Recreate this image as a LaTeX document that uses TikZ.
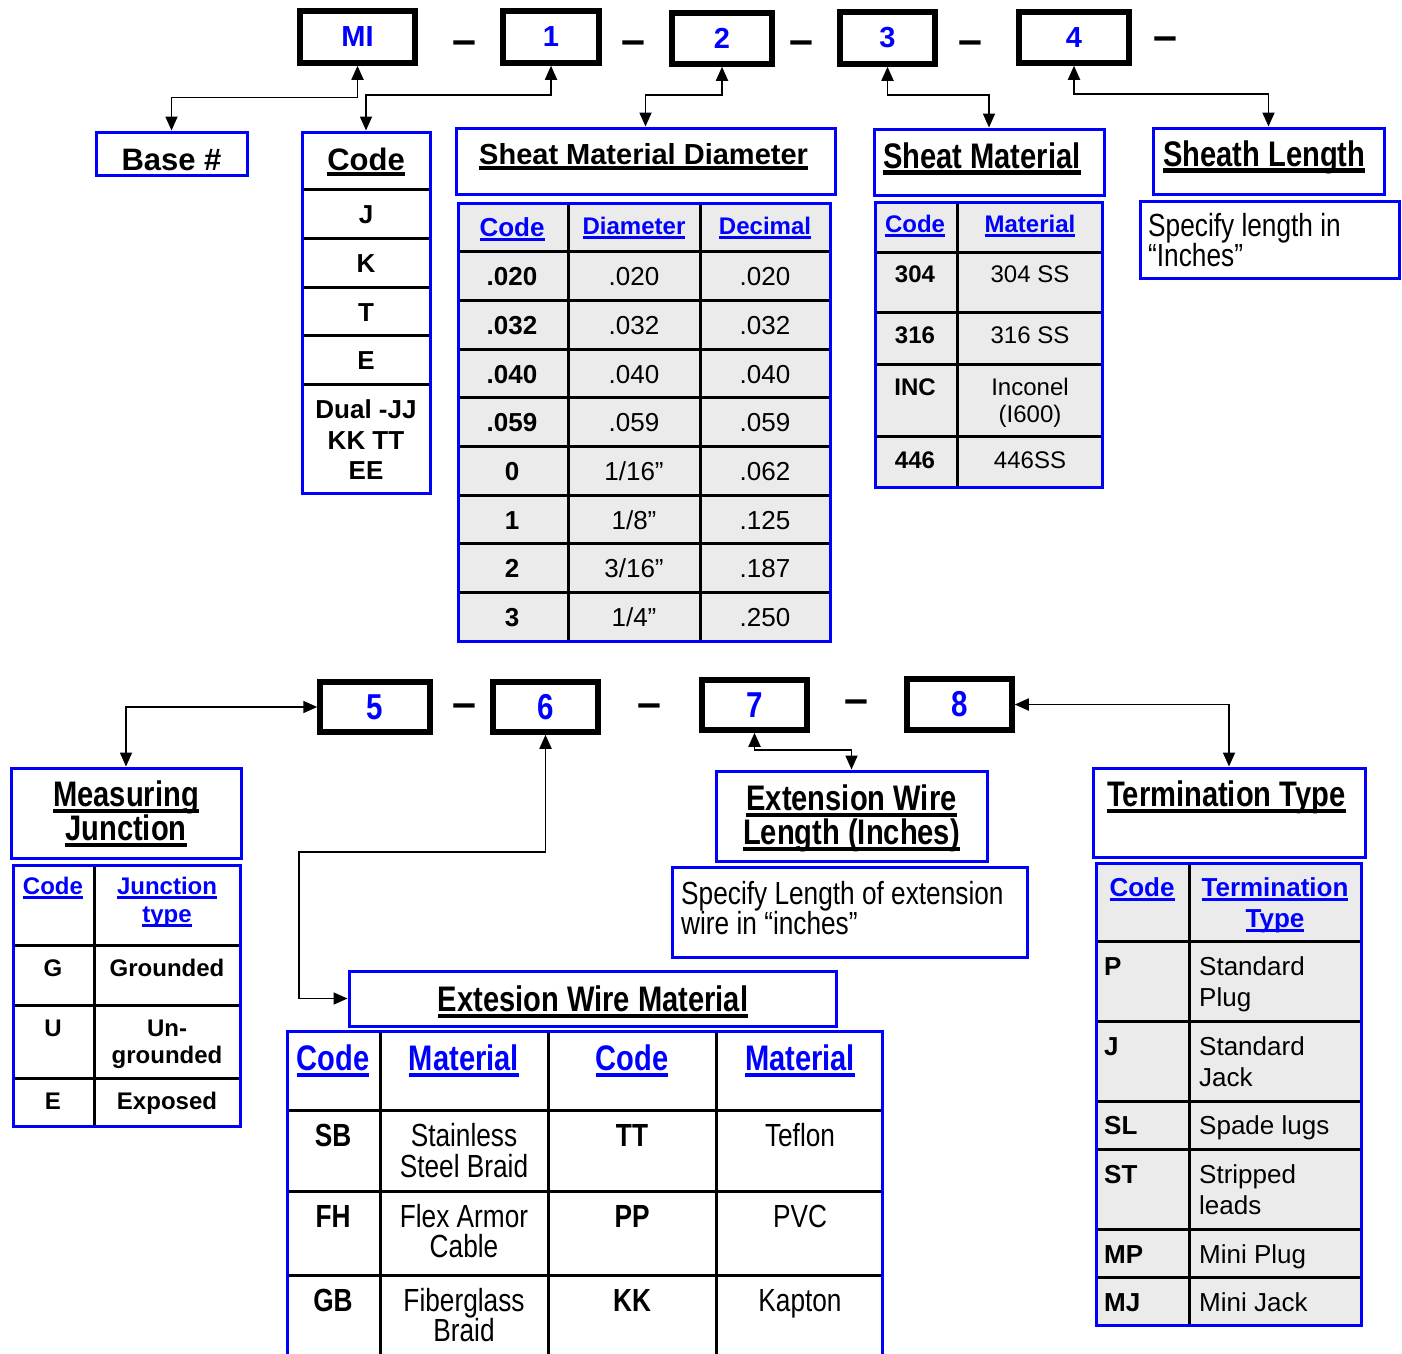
\documentclass[tikz,border=0pt]{standalone}
\usepackage{fontspec}
\setmainfont{Liberation Sans}
\newfontfamily\narrowsf[FakeStretch=0.82]{Liberation Sans}
\usetikzlibrary{arrows.meta,fit}
\newcommand\fsz[1]{\fontsize{#1}{#1}\selectfont}
\newcommand\uln[1]{\leavevmode\setbox0=\hbox{#1}\rlap{\vrule width\wd0 height -0.07em depth 0.19em}\box0}
\definecolor{shade}{gray}{0.92}
\tikzset{
  numbox/.style={draw=black, line width=5.5pt, inner sep=0pt},
  numtx/.style={inner sep=0pt, text=blue, font=\bfseries\fsz{29}},
  numtxb/.style={numtx, font=\narrowsf\bfseries\fsz{36}},
  sep/.style={anchor=base, inner sep=0pt, font=\bfseries\fsz{43}},
  bluebox/.style={draw=blue, line width=3pt, inner sep=0pt, fill=white},
  rowrule/.style={line width=3pt},
  link/.style={line width=1.8pt, {Triangle[length=14pt,width=12pt]}-{Triangle[length=14pt,width=12pt]}},
  txt/.style={anchor=base, inner sep=0pt},
  hdb/.style={txt, font=\bfseries\fsz{29}},
  hdn/.style={txt, font=\narrowsf\bfseries\fsz{35.5}},
  nreg/.style={txt, font=\narrowsf\fsz{32}},
  nbold/.style={txt, font=\narrowsf\bfseries\fsz{32}},
  b24/.style={txt, font=\bfseries\fsz{24}},
  r24/.style={txt, font=\fsz{24}},
  b26/.style={txt, font=\bfseries\fsz{26}},
  r26/.style={txt, font=\fsz{26}},
  bl/.style={text=blue}
}
\begin{document}
\begin{tikzpicture}[x=1pt,y=-1pt]
\useasboundingbox (0,0) rectangle (1402,1353);
\fill[white] (0,0) rectangle (1402,1353);

% part number, first line
\node[numbox, fit={(300,11) (415,63)}] (mi) {};
\node[numbox, fit={(503,11) (599,63)}] (c1) {};
\node[numbox, fit={(672,13) (772,64)}] (c2) {};
\node[numbox, fit={(840,12) (935,64)}] (c3) {};
\node[numbox, fit={(1019,12) (1129,63)}] (c4) {};
\node[numtx] (mitx) at (mi.center) {MI};
\node[numtx] (c1tx) at (c1.center) {1};
\node[numtx] (c2tx) at (c2.center) {2};
\node[numtx] (c3tx) at (c3.center) {3};
\node[numtx] (c4tx) at (c4.center) {4};
\node[sep] (s1) at (464,54) {–};
\node[sep] (s2) at (633,54) {–};
\node[sep] (s3) at (801.5,54) {–};
\node[sep] (s4) at (970,54) {–};
\node[sep] (s5) at (1165,50) {–};

% base and code
\node[bluebox, fit={(96,132) (247,175)}] (base) {};
\node[hdb, font=\bfseries\fsz{31}] (basetx) at (171.5,170) {Base \#};
\node[bluebox, fit={(302,132) (430,493)}] (codetab) {};
\foreach \r in {189,238,287,335,384} \draw[rowrule] (303.5,\r) -- (428.5,\r);
\node[hdb, font=\bfseries\fsz{31}] (codetx) at (366,170) {\uln{Code}};
\foreach \y/\t [count=\i] in {223/J,272/K,321/T,369/E,418/Dual -JJ,449/KK TT,479/EE}
  \node[b26] (code\i) at (366,\y) {\t};

% sheath diameter
\node[bluebox, fit={(456,128) (835,194)}] (diahead) {};
\node[hdb, anchor=base west] (diatx) at (479,164) {\uln{Sheat Material Diameter}};
\node[bluebox, fill=shade, fit={(458,203) (830,641)}] (diatab) {};
\foreach \r in {251,300,349,397,446,495,543,592} \draw[rowrule] (459.5,\r) -- (828.5,\r);
\foreach \c in {568,700} \draw[rowrule] (\c,204.5) -- (\c,639.5);
\node[b26, bl] (dh1) at (512,236) {\uln{Code}};
\node[b24, bl] (dh2) at (634,234) {\uln{Diameter}};
\node[b24, bl] (dh3) at (765,234) {\uln{Decimal}};
\node[b26] (da1) at (512,285) {.020}; \node[r26] (db1) at (634,285) {.020}; \node[r26] (dc1) at (765,285) {.020};
\node[b26] (da2) at (512,334) {.032}; \node[r26] (db2) at (634,334) {.032}; \node[r26] (dc2) at (765,334) {.032};
\node[b26] (da3) at (512,383) {.040}; \node[r26] (db3) at (634,383) {.040}; \node[r26] (dc3) at (765,383) {.040};
\node[b26] (da4) at (512,431) {.059}; \node[r26] (db4) at (634,431) {.059}; \node[r26] (dc4) at (765,431) {.059};
\node[b26] (da5) at (512,480) {0}; \node[r26] (db5) at (634,480) {1/16”}; \node[r26] (dc5) at (765,480) {.062};
\node[b26] (da6) at (512,529) {1}; \node[r26] (db6) at (634,529) {1/8”}; \node[r26] (dc6) at (765,529) {.125};
\node[b26] (da7) at (512,577) {2}; \node[r26] (db7) at (634,577) {3/16”}; \node[r26] (dc7) at (765,577) {.187};
\node[b26] (da8) at (512,626) {3}; \node[r26] (db8) at (634,626) {1/4”}; \node[r26] (dc8) at (765,626) {.250};

% sheath material
\node[bluebox, fit={(874,129) (1104,195)}] (mathead) {};
\node[hdn, anchor=base west] (mattx) at (883,168) {\uln{Sheat Material}};
\node[bluebox, fill=shade, fit={(875,202) (1102,487)}] (mattab) {};
\foreach \r in {252,312,364,436} \draw[rowrule] (876.5,\r) -- (1100.5,\r);
\draw[rowrule] (957,203.5) -- (957,485.5);
\node[b24, bl] (mh1) at (915,232) {\uln{Code}};
\node[b24, bl] (mh2) at (1030,232) {\uln{Material}};
\node[b24] (ma1) at (915,282) {304}; \node[r24] (mb1) at (1030,282) {304 SS};
\node[b24] (ma2) at (915,343) {316}; \node[r24] (mb2) at (1030,343) {316 SS};
\node[b24] (ma3) at (915,395) {INC}; \node[r24] (mb3) at (1030,395) {Inconel};
\node[r24] (mb3b) at (1030,422) {(I600)};
\node[b24] (ma4) at (915,468) {446}; \node[r24] (mb4) at (1030,468) {446SS};

% sheath length
\node[bluebox, fit={(1153,128) (1384,194)}] (lenhead) {};
\node[hdn, anchor=base west] (lentx) at (1163,166) {\uln{Sheath Length}};
\node[bluebox, fit={(1140,201) (1399,278)}] (lenbox) {};
\node[nreg, anchor=base west] (lena) at (1148,236) {Specify length in};
\node[nreg, anchor=base west] (lenb) at (1148,266) {“Inches”};

% part number, second line
\node[numbox, fit={(320,682) (430,732)}] (c5) {};
\node[numbox, fit={(493,682) (598,732)}] (c6) {};
\node[numbox, fit={(702,680) (807,730)}] (c7) {};
\node[numbox, fit={(907,679) (1012,730)}] (c8) {};
\node[numtxb] (c5tx) at (c5.center) {5};
\node[numtxb] (c6tx) at (c6.center) {6};
\node[numtxb] (c7tx) at (c7.center) {7};
\node[numtxb] (c8tx) at (c8.center) {8};
\node[sep] (s6) at (464.5,717) {–};
\node[sep] (s7) at (649.5,717) {–};
\node[sep] (s8) at (856.5,713) {–};

% measuring junction
\node[bluebox, fit={(11,768) (241,858)}] (mjhead) {};
\node[hdn] (mjtx1) at (126,806) {\uln{Measuring}};
\node[hdn] (mjtx2) at (126,840) {\uln{Junction}};
\node[bluebox, fit={(13,865) (240,1126)}] (jtab) {};
\foreach \r in {945,1005,1078} \draw[rowrule] (14.5,\r) -- (238.5,\r);
\draw[rowrule] (94,866.5) -- (94,1124.5);
\node[b24, bl] (jh1) at (53,894) {\uln{Code}};
\node[b24, bl] (jh2) at (167,894) {\uln{Junction}};
\node[b24, bl] (jh3) at (167,922) {\uln{type}};
\node[b24] (ja1) at (53,976) {G}; \node[b24] (jb1) at (167,976) {Grounded};
\node[b24] (ja2) at (53,1036) {U}; \node[b24] (jb2) at (167,1036) {Un-};
\node[b24] (jb2b) at (167,1063) {grounded};
\node[b24] (ja3) at (53,1109) {E}; \node[b24] (jb3) at (167,1109) {Exposed};

% extension wire length
\node[bluebox, fit={(716,771) (987,861)}] (ewlhead) {};
\node[hdn] (ewltx1) at (851.5,810) {\uln{Extension Wire}};
\node[hdn] (ewltx2) at (851.5,844) {\uln{Length (Inches)}};
\node[bluebox, fit={(672,867) (1027,957)}] (ewlbox) {};
\node[nreg, anchor=base west] (ewla) at (681,904) {Specify Length of extension};
\node[nreg, anchor=base west] (ewlb) at (681,934) {wire in “inches”};

% termination type
\node[bluebox, fit={(1093,768) (1365,857)}] (tthead) {};
\node[hdn, anchor=base west] (tttx) at (1107,806) {\uln{Termination Type}};
\node[bluebox, fill=shade, fit={(1096,863) (1361,1325)}] (tttab) {};
\foreach \r in {941,1021,1101,1149,1229,1277} \draw[rowrule] (1097.5,\r) -- (1359.5,\r);
\draw[rowrule] (1189,864.5) -- (1189,1323.5);
\node[b26, bl] (th1) at (1142,896) {\uln{Code}};
\node[b26, bl] (th2) at (1275,896) {\uln{Termination}};
\node[b26, bl] (th3) at (1275,927) {\uln{Type}};
\foreach \y/\c/\v [count=\i] in {975/P/Standard,1055/J/Standard,1134/SL/Spade lugs,1183/ST/Stripped,1263/MP/Mini Plug,1311/MJ/Mini Jack} {
  \node[b26, anchor=base west] (ta\i) at (1104,\y) {\c};
  \node[r26, anchor=base west] (tb\i) at (1199,\y) {\v};
}
\node[r26, anchor=base west] (tb1b) at (1199,1006) {Plug};
\node[r26, anchor=base west] (tb2b) at (1199,1086) {Jack};
\node[r26, anchor=base west] (tb4b) at (1199,1214) {leads};

% extension wire material
\node[bluebox, fit={(349,971) (836,1026)}] (ewmhead) {};
\node[hdn] (ewmtx) at (593,1011) {\uln{Extesion Wire Material}};
\draw[draw=blue, line width=3pt] (287,1362) -- (287,1031) -- (882,1031) -- (882,1362);
\foreach \r in {1110,1191,1275} \draw[rowrule] (288.5,\r) -- (880.5,\r);
\foreach \c in {380,548,716} \draw[rowrule] (\c,1032.5) -- (\c,1362);
\node[hdn, bl] (eh1) at (333,1070) {\uln{Code}};
\node[hdn, bl] (eh2) at (464,1070) {\uln{Material}};
\node[hdn, bl] (eh3) at (632,1070) {\uln{Code}};
\node[hdn, bl] (eh4) at (800,1070) {\uln{Material}};
\foreach \y/\a/\b/\c/\d [count=\i] in {1146/SB/Stainless/TT/Teflon,1227/FH/Flex Armor/PP/PVC,1311/GB/Fiberglass/KK/Kapton} {
  \node[nbold] (ea\i) at (333,\y) {\a};
  \node[nreg] (eb\i) at (464,\y) {\b};
  \node[nbold] (ec\i) at (632,\y) {\c};
  \node[nreg] (ed\i) at (800,\y) {\d};
}
\node[nreg] (eb1b) at (464,1177) {Steel Braid};
\node[nreg] (eb2b) at (464,1257) {Cable};
\node[nreg] (eb3b) at (464,1341) {Braid};

% connectors
\draw[link] (base.north) -- ++(0,-33) -| (mi.south);
\draw[link] (c1.south) -- ++(0,29) -| (codetab.north);
\draw[link] (c2.south) -- ++(0,28) -| (diahead.north);
\draw[link] (c3.south) -- ++(0,28) -| (mathead.north);
\draw[link] (c4.south) -- ++(0,28) -| (lenhead.north);
\draw[link] (mjhead.north) |- (c5.west);
\coordinate (bend6) at (299,852);
\draw[link] (c6.south) |- (bend6) |- (ewmhead.west);
\draw[link] (c7.south) -- ++(0,17) -| (ewlhead.north);
\draw[link] (c8.east) -| (tthead.north);
\end{tikzpicture}
\end{document}
